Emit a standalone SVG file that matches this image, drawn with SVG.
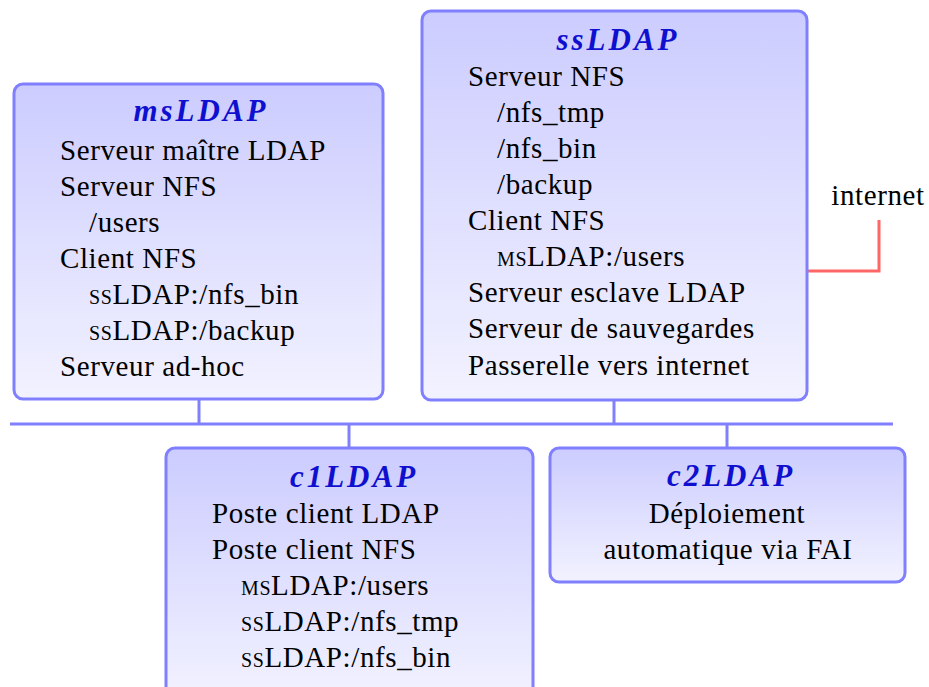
<svg xmlns="http://www.w3.org/2000/svg" width="929" height="687" viewBox="0 0 929 687">
<defs>
<linearGradient id="g" x1="0" y1="0" x2="0" y2="1">
<stop offset="0" stop-color="#ccccff"/>
<stop offset="1" stop-color="#f2f2ff"/>
</linearGradient>
<style>
.box{fill:url(#g);stroke:#8080ff;stroke-width:3}
.sc{font-variant:small-caps}
.w{fill:none;stroke:#8080ff;stroke-width:3}
.r{fill:none;stroke:#ff6666;stroke-width:3}
</style>
</defs>
<rect width="929" height="687" fill="#fff"/>
<g id="connectors">
<line class="w" x1="10" y1="424" x2="893" y2="424"/>
<line class="w" x1="199" y1="399" x2="199" y2="424"/>
<line class="w" x1="614" y1="400" x2="614" y2="424"/>
<line class="w" x1="349" y1="424" x2="349" y2="448"/>
<line class="w" x1="727" y1="424" x2="727" y2="448"/>
<polyline class="r" points="807,271 879,271 879,220"/>
</g>
<g id="msLDAP" font-family="Liberation Serif, serif" font-size="29" letter-spacing="0.6">
<rect class="box" x="14" y="84" width="369" height="315" rx="9"/>
<text x="201" y="121" font-size="31" font-weight="bold" font-style="italic" fill="#0f0fd0" text-anchor="middle" letter-spacing="3">msLDAP</text>
<text x="60" y="160">Serveur maître LDAP</text>
<text x="60" y="196">Serveur NFS</text>
<text x="89" y="232">/users</text>
<text x="60" y="268">Client NFS</text>
<text x="89" y="304"><tspan class="sc">ss</tspan>LDAP:/nfs_bin</text>
<text x="89" y="340"><tspan class="sc">ss</tspan>LDAP:/backup</text>
<text x="60" y="376">Serveur ad-hoc</text>
</g>
<g id="ssLDAP" font-family="Liberation Serif, serif" font-size="29" letter-spacing="0.6">
<rect class="box" x="422" y="11" width="385" height="389" rx="9"/>
<text x="618" y="50" font-size="31" font-weight="bold" font-style="italic" fill="#0f0fd0" text-anchor="middle" letter-spacing="3">ssLDAP</text>
<text x="468" y="86">Serveur NFS</text>
<text x="497" y="122">/nfs_tmp</text>
<text x="497" y="158">/nfs_bin</text>
<text x="497" y="194">/backup</text>
<text x="468" y="230">Client NFS</text>
<text x="497" y="266"><tspan class="sc">ms</tspan>LDAP:/users</text>
<text x="468" y="302">Serveur esclave LDAP</text>
<text x="468" y="338">Serveur de sauvegardes</text>
<text x="468" y="375">Passerelle vers internet</text>
</g>
<g id="internet" font-family="Liberation Serif, serif" font-size="29" letter-spacing="0.6">
<text x="878" y="205" text-anchor="middle">internet</text>
</g>
<g id="c1LDAP" font-family="Liberation Serif, serif" font-size="29" letter-spacing="0.6">
<rect class="box" x="166" y="448" width="367" height="252" rx="9"/>
<text x="354" y="487" font-size="31" font-weight="bold" font-style="italic" fill="#0f0fd0" text-anchor="middle" letter-spacing="3">c1LDAP</text>
<text x="212" y="523">Poste client LDAP</text>
<text x="212" y="559">Poste client NFS</text>
<text x="241" y="595"><tspan class="sc">ms</tspan>LDAP:/users</text>
<text x="241" y="631"><tspan class="sc">ss</tspan>LDAP:/nfs_tmp</text>
<text x="241" y="667"><tspan class="sc">ss</tspan>LDAP:/nfs_bin</text>
</g>
<g id="c2LDAP" font-family="Liberation Serif, serif" font-size="29" letter-spacing="0.6">
<rect class="box" x="550" y="448" width="355" height="134" rx="9"/>
<text x="731" y="486" font-size="31" font-weight="bold" font-style="italic" fill="#0f0fd0" text-anchor="middle" letter-spacing="3">c2LDAP</text>
<text x="727" y="523" text-anchor="middle">Déploiement</text>
<text x="728" y="559" text-anchor="middle">automatique via FAI</text>
</g>
</svg>
